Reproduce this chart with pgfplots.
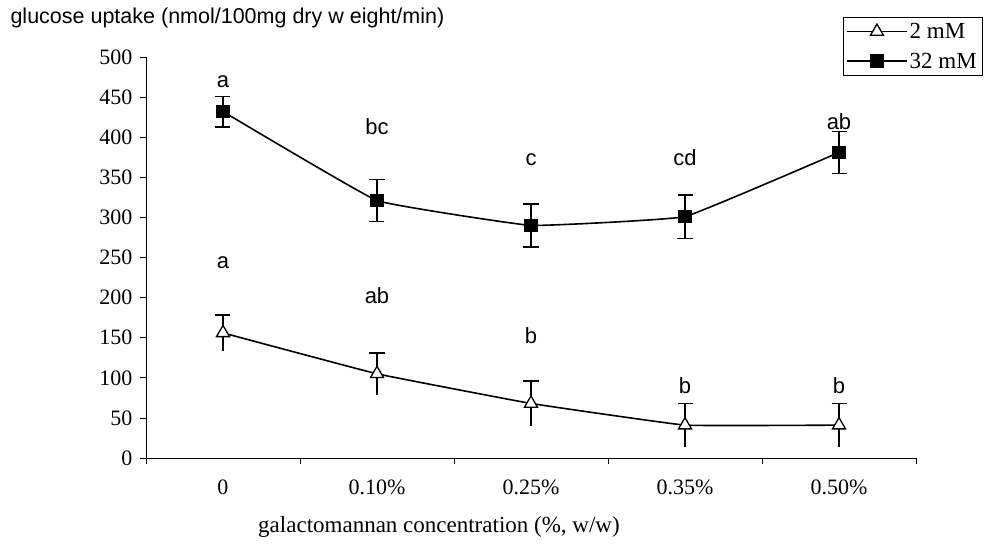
\documentclass[border=0pt]{standalone}
\usepackage{fontspec}
\setmainfont{Liberation Serif}
\newfontfamily\arial{Liberation Sans}
\usepackage{pgfplots}
\usepackage{pgfplotstable}
\pgfplotsset{compat=1.18}

\pgfplotstableread{
x y e
0 432 19
1 321 26
2 290 27
3 301 27
4 381 26
}\high
\pgfplotstableread{
x y e
0 156 22
1 105 26
2 68 28
3 41 27
4 41 27
}\low

\begin{document}
\begin{tikzpicture}
\path[use as bounding box] (-146bp,-89bp) rectangle (839bp,458bp);
\begin{axis}[
 at={(0,0)}, anchor=south west, scale only axis,
 width=770bp, height=401bp,
 xmin=-0.5, xmax=4.5, ymin=0, ymax=500,
 axis lines=left, axis line style={-, black, line width=0.8bp},
 xtick={0,1,2,3,4}, xticklabels={0,0.10\%,0.25\%,0.35\%,0.50\%},
 major x tick style={draw=none},
 minor xtick={-0.5,0.5,1.5,2.5,3.5,4.5},
 ytick={0,50,...,500},
 tick align=outside, major tick length=6bp, minor tick length=6bp,
 tick style={black, line width=0.8bp},
 /pgf/number format/assume math mode=true,
 ticklabel style={font=\fontsize{22bp}{26bp}\selectfont},
 xticklabel style={yshift=-12bp},
 yticklabel style={xshift=-4bp},
 xlabel={galactomannan concentration (\%, w/w)},
 xlabel style={at={(axis description cs:0.3805,-0.172)}, anchor=center, font=\fontsize{23bp}{27bp}\selectfont},
 ylabel={glucose uptake (nmol/100mg dry w eight/min)},
 ylabel style={at={(axis description cs:-0.1805,1.097)}, rotate=-90, anchor=west, font=\arial\fontsize{21.5bp}{25bp}\selectfont},
 legend style={at={(axis description cs:0.905,1.10)}, anchor=north west, draw=black, line width=0.6bp, font=\fontsize{23bp}{27bp}\selectfont, row sep=9bp, inner xsep=3bp, inner ysep=4bp, cells={anchor=west}},
 legend image code/.code={\draw[mark repeat=2,mark phase=2,#1, line width=1.6bp] plot coordinates {(0bp,0bp) (30bp,0bp) (60bp,0bp)};},
]
% 2 mM error bars: upper with caps, lower without
\addplot[only marks, mark=none, forget plot,
  error bars/.cd, y dir=plus, y explicit,
  error bar style={draw=black, solid, line width=1.5bp},
  error mark options={draw=black, rotate=90, mark size=7.5bp, line width=1.5bp}]
  table[x=x, y=y, y error=e]{\low};
\addplot[only marks, mark=none, forget plot,
  error bars/.cd, y dir=minus, y explicit, error mark=none,
  error bar style={draw=black, solid, line width=1.5bp}]
  table[x=x, y=y, y error=e]{\low};
% 32 mM error bars
\addplot[only marks, mark=none, forget plot,
  error bars/.cd, y dir=both, y explicit,
  error bar style={draw=black, solid, line width=1.5bp},
  error mark options={draw=black, rotate=90, mark size=7.5bp, line width=1.5bp}]
  table[x=x, y=y, y error=e]{\high};
% lines
\addplot[black, line width=1.6bp, smooth, tension=0.15, mark=triangle*, mark size=7.5bp, mark options={solid, fill=white, line width=1.3bp}]
  table[x=x, y=y]{\low};
\addlegendentry{2 mM}
\addplot[black, line width=1.6bp, smooth, tension=0.15, mark=square*, mark size=6bp, mark options={solid, fill=black}]
  table[x=x, y=y]{\high};
\addlegendentry{32 mM}
% letters
\begin{scope}[every node/.style={font=\arial\fontsize{22bp}{26bp}\selectfont}]
\node at (axis cs:0,469) {a};
\node at (axis cs:1,413) {bc};
\node at (axis cs:2,372) {c};
\node at (axis cs:3,374) {cd};
\node at (axis cs:4,419) {ab};
\node at (axis cs:0,244) {a};
\node at (axis cs:1,202) {ab};
\node at (axis cs:2,153) {b};
\node at (axis cs:3,90) {b};
\node at (axis cs:4,90) {b};
\end{scope}
\end{axis}
\end{tikzpicture}
\end{document}
